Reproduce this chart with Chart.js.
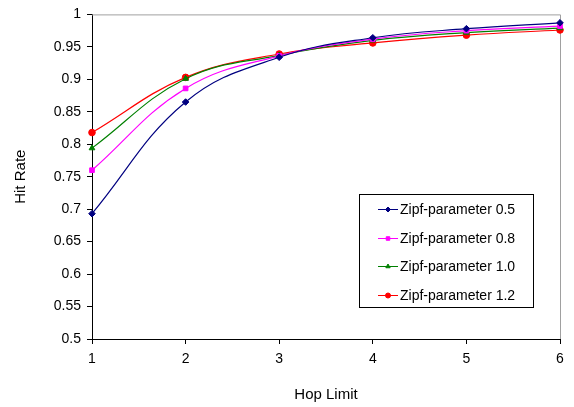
<!DOCTYPE html>
<html>
<head>
<meta charset="utf-8">
<script src="https://cdn.jsdelivr.net/npm/chart.js@4"></script>
<style>
  html, body { margin: 0; padding: 0; background: #fff; }
  canvas { display: block; }
</style>
</head>
<body>
<canvas id="chart" width="574" height="407"></canvas>
<script>
const hopLimits = [1, 2, 3, 4, 5, 6];
const seriesNames = ["Zipf-parameter 0.5", "Zipf-parameter 0.8", "Zipf-parameter 1.0", "Zipf-parameter 1.2"];
const zipf05 = [0.693, 0.865, 0.934, 0.964, 0.978, 0.987];
const zipf08 = [0.760, 0.886, 0.936, 0.962, 0.975, 0.982];
const zipf10 = [0.794, 0.901, 0.937, 0.960, 0.972, 0.979];
const zipf12 = [0.818, 0.903, 0.939, 0.956, 0.968, 0.976];
const colors = ["#000080", "#ff00ff", "#008000", "#ff0000"];
const markers = ["rectRot", "rect", "triangle", "circle"];

const FONT = "'Liberation Sans', Arial, sans-serif";

function series(values, i) {
  return {
    label: seriesNames[i],
    data: hopLimits.map((h, j) => ({ x: h, y: values[j] })),
    borderColor: colors[i],
    backgroundColor: colors[i],
    borderWidth: 1.2,
    pointStyle: markers[i],
    pointRadius: 3.3,
    pointBorderWidth: 1,
    tension: 0.4,
    clip: false
  };
}

// grey frame on top and right, like the spreadsheet plot area
const framePlugin = {
  id: "frame",
  beforeDatasetsDraw(chart) {
    const { ctx, chartArea: a } = chart;
    ctx.save();
    ctx.strokeStyle = "#a0a0a0";
    ctx.lineWidth = 1;
    ctx.beginPath();
    ctx.moveTo(a.left, a.top + 0.5);
    ctx.lineTo(a.right + 0.5, a.top + 0.5);
    ctx.lineTo(a.right + 0.5, a.bottom);
    ctx.stroke();
    ctx.restore();
  }
};

// boxed legend inside the plot area
const boxLegend = {
  id: "boxLegend",
  afterDatasetsDraw(chart) {
    const ctx = chart.ctx;
    const x0 = 359, y0 = 194, w = 174, h = 113;
    ctx.save();
    ctx.fillStyle = "#fff";
    ctx.fillRect(x0, y0, w, h);
    ctx.strokeStyle = "#000";
    ctx.lineWidth = 1;
    ctx.strokeRect(x0 + 0.5, y0 + 0.5, w, h);
    ctx.font = "14px " + FONT;
    ctx.textBaseline = "middle";
    ctx.textAlign = "left";
    chart.data.datasets.forEach((ds, i) => {
      const y = Math.round(y0 + 15 + i * 28.5) + 0.5;
      ctx.strokeStyle = ds.borderColor;
      ctx.fillStyle = ds.backgroundColor;
      ctx.lineWidth = 1;
      ctx.beginPath();
      ctx.moveTo(378, y);
      ctx.lineTo(398, y);
      ctx.stroke();
      Chart.helpers.drawPoint(ctx, { pointStyle: ds.pointStyle, radius: 2.5, borderWidth: 1 }, 388, y);
      ctx.fillStyle = "#000";
      ctx.fillText(ds.label, 400, y + 1);
    });
    ctx.restore();
  }
};

new Chart(document.getElementById("chart"), {
  type: "line",
  data: {
    datasets: [series(zipf05, 0), series(zipf08, 1), series(zipf10, 2), series(zipf12, 3)]
  },
  options: {
    responsive: false,
    animation: false,
    devicePixelRatio: 1,
    layout: { padding: { top: 9, right: 14, left: 0, bottom: 0 } },
    plugins: {
      legend: { display: false },
      tooltip: { enabled: false }
    },
    scales: {
      x: {
        type: "linear",
        min: 1,
        max: 6,
        afterFit(scale) { scale.height = 68; },
        ticks: { stepSize: 1, color: "#000", font: { family: FONT, size: 14 }, padding: 7, maxRotation: 0 },
        grid: { display: true, drawOnChartArea: false, drawTicks: true, tickLength: 5, tickColor: "#000" },
        border: { color: "#000", width: 1 },
        title: { display: true, text: "Hop Limit", color: "#000", font: { family: FONT, size: 15 }, padding: { top: 0, bottom: 3 } }
      },
      y: {
        min: 0.5,
        max: 1,
        afterFit(scale) { scale.width = 92; },
        ticks: {
          stepSize: 0.05,
          color: "#000",
          font: { family: FONT, size: 14 },
          padding: 6,
          callback: v => String(Number(v.toFixed(2)))
        },
        grid: { display: true, drawOnChartArea: false, drawTicks: true, tickLength: 5, tickColor: "#000" },
        border: { color: "#000", width: 1 },
        title: { display: true, text: "Hit Rate", color: "#000", font: { family: FONT, size: 15 }, padding: { top: 12, bottom: 0 } }
      }
    }
  },
  plugins: [framePlugin, boxLegend]
});
</script>
</body>
</html>
